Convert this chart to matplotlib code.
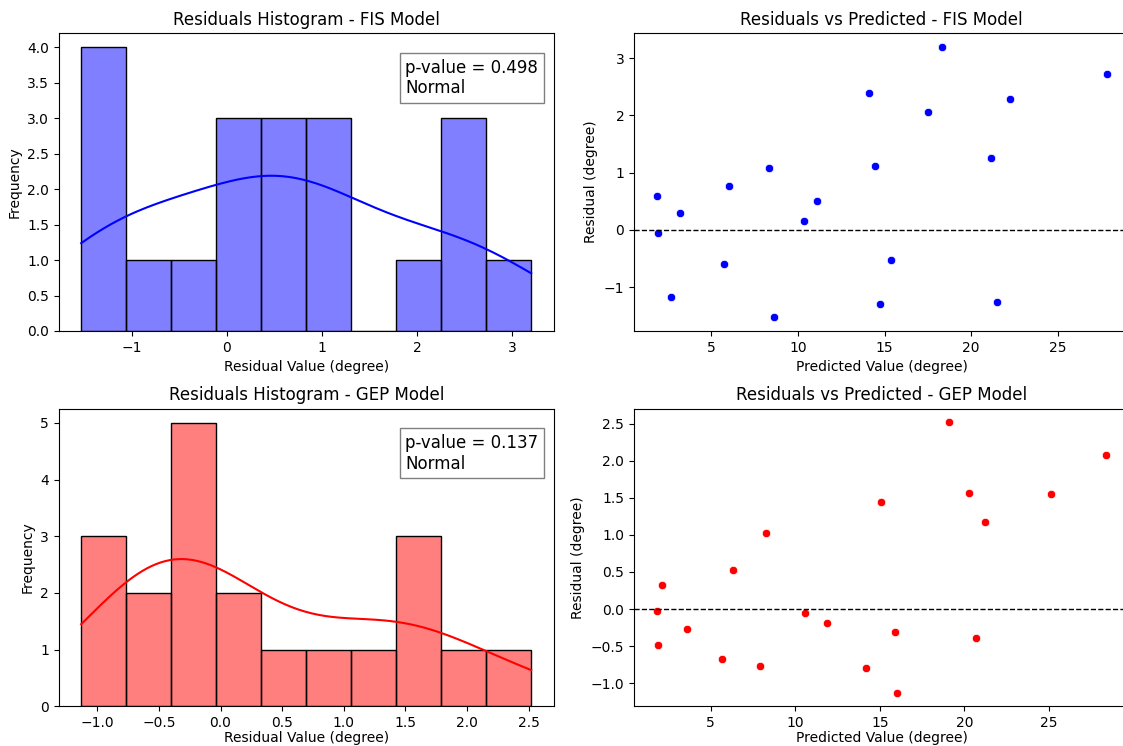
#!/usr/bin/env python3

import matplotlib
import numpy as np
import matplotlib.pyplot as plt
import seaborn as sns

matplotlib.use('Agg')

# residuals and predictions
fis_pred = [1.85, 1.91, 2.70, 3.19, 5.73, 6.04, 8.32, 8.65, 10.35, 11.12,
            14.11, 14.44, 14.71, 15.39, 17.53, 18.32, 21.12, 21.51, 22.22, 27.80]
fis_res = [0.59, -0.06, -1.18, 0.29, -0.59, 0.77, 1.09, -1.53, 0.16, 0.51,
           2.39, 1.12, -1.29, -0.52, 2.06, 3.20, 1.25, -1.26, 2.28, 2.72]

gep_pred = [1.8, 1.9, 2.1, 3.6, 5.7, 6.3, 7.9, 8.3, 10.6, 11.9,
            14.2, 15.1, 15.9, 16.0, 19.1, 20.3, 20.7, 21.2, 25.1, 28.4]
gep_res = [-0.03, -0.49, 0.32, -0.27, -0.67, 0.52, -0.77, 1.02, -0.05, -0.19,
           -0.80, 1.45, -0.31, -1.13, 2.52, 1.56, -0.39, 1.18, 1.55, 2.08]

models = ['FIS', 'GEP']
colors = ['blue', 'red']
p_values = [0.498, 0.137]


def add_axes_px(fig, x0, y0, x1, y1, W=1123, H=746):
    return fig.add_axes([x0 / W, 1 - y1 / H, (x1 - x0) / W, (y1 - y0) / H])


fig = plt.figure(figsize=(11.23, 7.46), dpi=100)

rows = [(33.3, 331.0), (408.7, 706.3)]
data = [(fis_pred, fis_res), (gep_pred, gep_res)]
xpads = [4, 1]

for i, (name, col, p, (pred, res)) in enumerate(zip(models, colors, p_values, data)):
    top, bot = rows[i]

    ax = add_axes_px(fig, 58.7, top, 553.7, bot)
    sns.histplot(np.array(res), bins=10, kde=True, color=col, edgecolor='black', ax=ax)
    ax.set_title(f'Residuals Histogram - {name} Model', fontsize=12)
    ax.set_xlabel('Residual Value (degree)', labelpad=xpads[i])
    ax.set_ylabel('Frequency')
    verdict = 'Normal' if p > 0.05 else 'Not Normal'
    ax.text(0.70, 0.915, f'p-value = {p:.3f}\n{verdict}', transform=ax.transAxes,
            fontsize=12, va='top', bbox=dict(facecolor='white', alpha=0.5))

    ax2 = add_axes_px(fig, 634.0, top, 1129.0, bot)
    sns.scatterplot(x=pred, y=res, color=col, ax=ax2)
    ax2.axhline(0, color='black', linestyle='--', linewidth=1)
    ax2.set_title(f'Residuals vs Predicted - {name} Model', fontsize=12)
    ax2.set_xlabel('Predicted Value (degree)', labelpad=xpads[i])
    ax2.set_ylabel('Residual (degree)')

fig.savefig('out.png', dpi=100)
